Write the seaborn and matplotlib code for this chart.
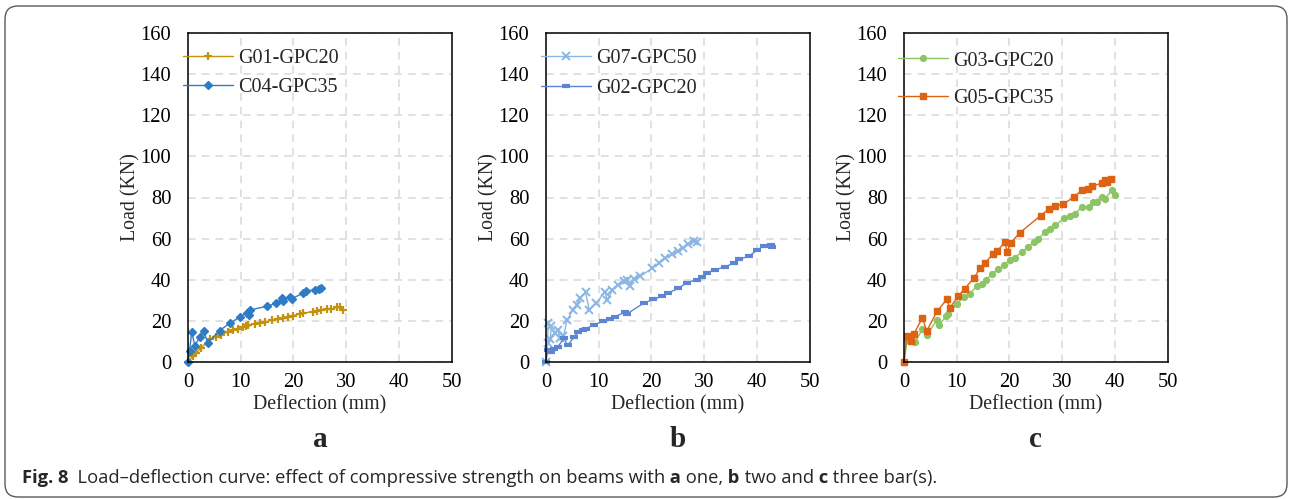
import matplotlib
matplotlib.use("Agg")
import matplotlib.pyplot as plt
import matplotlib.transforms as mtransforms
from matplotlib.patches import FancyBboxPatch
import pandas as pd
import seaborn as sns

# panel a : one bar
g01_x = [0, 0.95, 1.6, 2.5, 4.1, 5.4, 6.3, 7.6, 8.5, 9.5, 10.4, 11.0, 11.4, 12.7, 13.6, 14.6, 15.9,
         17.1, 18.0, 19.0, 19.9, 21.2, 21.8, 23.7, 24.4, 25.3, 26.3, 27.2, 28.2, 28.8, 29.4]
g01_y = [0, 2.8, 4.5, 6.9, 11.0, 12.1, 13.1, 14.8, 15.6, 16.2, 17.0, 17.6, 18.0, 18.7, 19.2, 19.5, 20.3,
         21.1, 21.6, 22.1, 22.6, 23.3, 23.8, 24.4, 24.9, 25.2, 25.6, 25.7, 26.6, 26.9, 25.4]
c04_x = [0, 0.3, 0.7, 1.3, 2.2, 3.0, 3.7, 6.0, 7.9, 9.8, 11.1, 11.5, 11.8, 14.9, 16.7, 17.8, 18.0,
         19.3, 19.7, 21.8, 22.4, 24.1, 24.8, 25.2]
c04_y = [0, 5.5, 14.5, 8.0, 12.0, 15.3, 9.3, 15.3, 18.8, 21.8, 24.0, 23.0, 25.3, 27.1, 28.5, 30.9, 29.5,
         31.5, 30.8, 33.5, 34.6, 35.0, 35.3, 36.0]

# panel b : two bars
g07_x = [0, 0.3, 0.4, 1.0, 0.8, 1.8, 2.2, 2.7, 3.3, 4.0, 5.1, 5.8, 6.5, 7.5, 8.2, 9.5, 11.2, 11.6,
         12.6, 13.6, 14.7, 15.3, 15.9, 16.7, 17.8, 20.1, 21.4, 22.6, 23.8, 25.0, 26.0, 27.0, 28.0, 28.6]
g07_y = [0, 9.0, 18.8, 17.5, 11.0, 14.0, 15.8, 11.5, 12.5, 20.3, 25.5, 27.7, 31.0, 33.9, 25.2, 28.5, 34.2, 30.1,
         35.0, 37.5, 39.3, 40.0, 37.0, 40.5, 41.6, 45.5, 48.2, 50.6, 52.3, 53.8, 55.5, 57.2, 58.8, 58.3]
g02_x = [0, 0.3, 1.0, 1.6, 2.3, 3.4, 4.1, 5.3, 6.1, 7.0, 7.5, 9.1, 10.9, 12.2, 13.1, 15.0, 15.3, 18.5,
         20.3, 22.0, 23.2, 25.1, 26.7, 28.6, 29.5, 30.5, 32.1, 34.0, 35.7, 36.6, 38.5, 40.1, 41.3, 42.6, 42.9]
g02_y = [0, 5.8, 4.7, 6.5, 7.5, 11.6, 8.1, 12.0, 14.5, 15.5, 16.0, 18.2, 19.7, 21.0, 22.0, 24.3, 23.3, 28.6,
         30.4, 32.0, 33.6, 35.8, 38.5, 40.1, 41.5, 43.5, 44.8, 46.4, 48.1, 49.9, 51.5, 54.6, 56.3, 56.9, 56.1]

# panel c : three bars
g03_x = [0, 0.6, 1.5, 2.1, 3.5, 4.3, 6.2, 6.7, 8.0, 8.4, 10.0, 11.3, 12.5, 13.8, 14.7, 15.6, 16.6, 17.9,
         18.9, 20.1, 21.1, 22.3, 23.6, 24.6, 25.5, 26.8, 27.7, 28.7, 30.3, 31.5, 32.5, 33.7, 35.0, 35.8,
         36.6, 37.5, 38.2, 39.4, 40.1]
g03_y = [0, 10.5, 10.0, 9.6, 16.0, 13.0, 20.3, 18.2, 22.2, 23.5, 28.0, 31.8, 33.3, 36.9, 37.8, 39.7, 43.0, 45.0,
         47.0, 49.8, 50.8, 53.5, 56.0, 58.4, 60.0, 63.3, 64.9, 66.4, 69.8, 70.9, 72.2, 75.5, 75.5, 77.9,
         77.9, 80.4, 79.5, 83.6, 81.2]
g05_x = [0, 0.5, 1.3, 1.9, 3.5, 4.3, 6.3, 8.1, 8.7, 10.3, 11.5, 13.3, 14.4, 15.4, 16.9, 17.7, 19.2, 19.5,
         20.3, 21.9, 25.9, 27.5, 28.7, 30.2, 32.2, 33.7, 34.9, 35.7, 37.5, 38.1, 38.5, 39.2]
g05_y = [0, 12.7, 10.0, 13.8, 21.5, 15.0, 24.8, 30.4, 26.4, 32.0, 35.6, 41.0, 45.5, 48.3, 52.6, 54.2, 58.3, 53.7,
         58.1, 62.7, 71.2, 74.5, 75.7, 76.9, 80.1, 83.6, 83.9, 85.5, 87.0, 88.4, 87.3, 89.2]

panels = [
    ("a", [("G01-GPC20", g01_x, g01_y, "#C29210", "+", 6, 1.6),
           ("C04-GPC35", c04_x, c04_y, "#2F7CC6", "D", 4.3, 1.0)], -0.019, 0.953, 0.50),
    ("b", [("G07-GPC50", g07_x, g07_y, "#8AB6E4", "x", 5.5, 1.4),
           ("G02-GPC20", g02_x, g02_y, "#5C86D4", "_", 5.5, 3.0)], -0.020, 0.953, 0.58),
    ("c", [("G03-GPC20", g03_x, g03_y, "#8CC466", "o", 4.2, 1.0),
           ("G05-GPC35", g05_x, g05_y, "#DD6312", "s", 4.3, 1.0)], -0.023, 0.944, 0.92),
]
lefts = [188, 546, 904]

sns.set_style("white")
plt.rcParams['font.family'] = ['Liberation Serif', 'DejaVu Serif']

W, H = 1290, 499
fig = plt.figure(figsize=(W / 100, H / 100), dpi=100)

for (letter, series, lx, ly, lsp), left in zip(panels, lefts):
    ax = fig.add_axes([left / W, (H - 362) / H, 263.7 / W, 329 / H])
    for name, xs, ys, col, mk, ms, mew in series:
        df = pd.DataFrame({"Deflection": xs, "Load": ys})
        sns.lineplot(data=df, x="Deflection", y="Load", sort=False, estimator=None, ax=ax,
                     color=col, linewidth=1.0, marker=mk, markersize=ms, markeredgewidth=mew,
                     markeredgecolor=col, markerfacecolor=col, label=name, clip_on=False)
    ax.set_xlim(0, 50)
    ax.set_ylim(0, 160)
    ax.set_xticks(range(0, 51, 10))
    ax.set_yticks(range(0, 161, 20))
    ax.grid(True, color="#d9d9d9", linestyle=(0, (5, 4)), linewidth=1.1)
    ax.set_axisbelow(True)
    for s in ax.spines.values():
        s.set_color("black")
        s.set_linewidth(1.1)
    ax.tick_params(axis="both", length=0, labelsize=14.8, colors="black")
    ax.tick_params(axis="x", pad=8)
    ax.tick_params(axis="y", pad=12)
    ax.set_xlabel("Deflection (mm)", fontsize=14.3)
    ax.set_ylabel("Load (KN)", fontsize=14.3)
    ax.xaxis.set_label_coords(0.5, -0.102)
    ax.yaxis.set_label_coords(-0.18, 0.5)
    ax.legend(loc="upper left", bbox_to_anchor=(lx, ly), frameon=False, fontsize=14.5,
              borderpad=0, borderaxespad=0, handlelength=2.5, handletextpad=0.25, labelspacing=lsp)
    ax.text(0.5, -0.258, letter, transform=ax.transAxes, ha="center", va="baseline",
            fontsize=21, fontweight="bold")

# rounded frame around the figure
frame = FancyBboxPatch((5, 2), 1282, 491, boxstyle="round,pad=0,rounding_size=13",
                       transform=mtransforms.IdentityTransform(), fill=False,
                       edgecolor="#5a5a5a", linewidth=1.0)
fig.patches.append(frame)

# caption with bold pieces
pieces = [("Fig. 8", "bold"),
          ("  Load\u2013deflection curve: effect of compressive strength on beams with", "normal"),
          (" a", "bold"), (" one,", "normal"), (" b", "bold"), (" two and", "normal"),
          (" c", "bold"), (" three bar(s).", "normal")]
cap_font = ['Open Sans', 'DejaVu Sans']
prev = fig.text(21.7 / W, (H - 482.7) / H, pieces[0][0], fontsize=13.2, fontweight="bold",
                family=cap_font, va="baseline", ha="left")
for txt, wt in pieces[1:]:
    prev = plt.annotate(txt, xy=(1, 0), xycoords=prev, va="bottom", ha="left",
                        fontsize=13.2, fontweight=wt, family=cap_font, annotation_clip=False)

fig.savefig("out.png", dpi=100)
